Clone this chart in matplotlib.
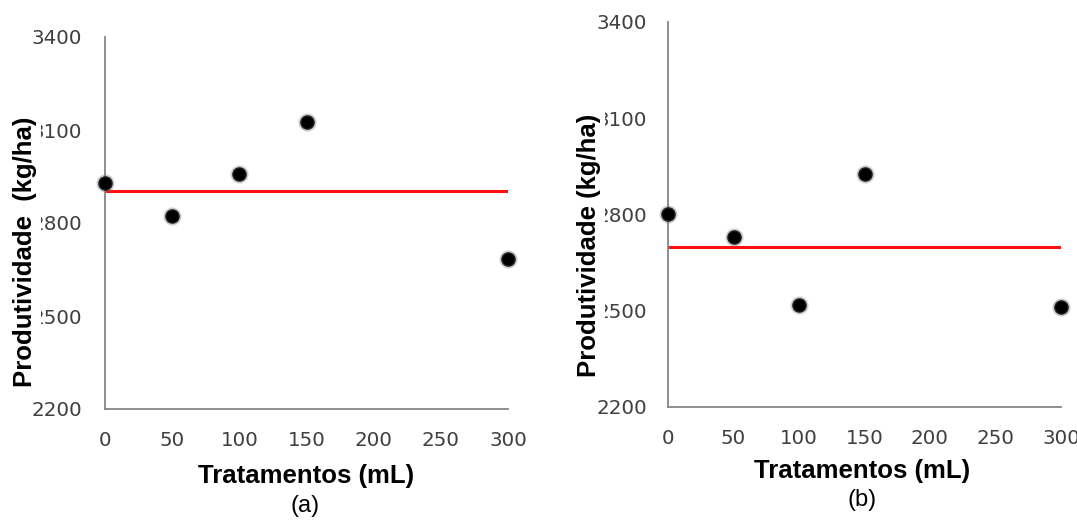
import matplotlib
matplotlib.use("Agg")
import matplotlib.pyplot as plt

# Data
tratamentos = [0, 50, 100, 150, 300]
produtividade_a = [2928, 2823, 2958, 3126, 2683]
produtividade_b = [2802, 2730, 2518, 2926, 2513]
media_a = 2904
media_b = 2698
xticks = [0, 50, 100, 150, 200, 250, 300]
yticks = [2200, 2500, 2800, 3100, 3400]

W, H = 1077, 520
fig = plt.figure(figsize=(W / 100, H / 100), dpi=100)

def px_axes(x0, x1, ytop, ybot):
    return fig.add_axes([x0 / W, (H - ybot) / H, (x1 - x0) / W, (ybot - ytop) / H])

axA = px_axes(105, 508, 37, 409)
axB = px_axes(668, 1061, 22, 407)

for ax, yv, media, ypad in [(axA, produtividade_a, media_a, 16.5), (axB, produtividade_b, media_b, 15)]:
    ax.set_xlim(0, 300)
    ax.set_ylim(2200, 3400)
    ax.set_xticks(xticks)
    ax.set_yticks(yticks)
    for s in ["top", "right"]:
        ax.spines[s].set_visible(False)
    for s in ["left", "bottom"]:
        ax.spines[s].set_color("#868686")
        ax.spines[s].set_linewidth(1.3)
    ax.tick_params(axis="both", length=0, colors="#404040")
    ax.tick_params(axis="y", pad=ypad)
    ax.tick_params(axis="x", pad=16)
    for lab in ax.get_xticklabels() + ax.get_yticklabels():
        lab.set_fontfamily("DejaVu Sans")
        lab.set_fontsize(14.3)
        lab.set_color("#404040")
    ax.plot([0, 300], [media, media], color="#ff1010", lw=2.2, zorder=2)
    # soft halo
    ax.plot(tratamentos, yv, "o", ms=13, color="#707070", alpha=0.35, mew=0,
            clip_on=False, zorder=3)
    ax.plot(tratamentos, yv, "o", ms=9.5, mfc="black", mec="#222222", mew=1,
            clip_on=False, zorder=4)

lab_kw = dict(family="Liberation Sans", weight="bold", size=18.5, color="black")
sub_kw = dict(family="Liberation Sans", size=17, color="black")

def ftext(x, y, s, **kw):
    return fig.text(x / W, (H - y) / H, s, ha="center", va="center", **kw)

ftext(25, 252, "Produtividade  (kg/ha)", rotation=90,
      bbox=dict(facecolor="white", edgecolor="none", pad=3), zorder=10, **lab_kw)
ftext(589, 245, "Produtividade (kg/ha)", rotation=90,
      bbox=dict(facecolor="white", edgecolor="none", pad=2.5), zorder=10, **lab_kw)

ftext(306, 476, "Tratamentos (mL)", **lab_kw)
ftext(305, 506, "(a)", **sub_kw)
ftext(862, 471, "Tratamentos (mL)", **lab_kw)
ftext(862, 500, "(b)", **sub_kw)

fig.savefig("out.png", dpi=100, facecolor="white")
